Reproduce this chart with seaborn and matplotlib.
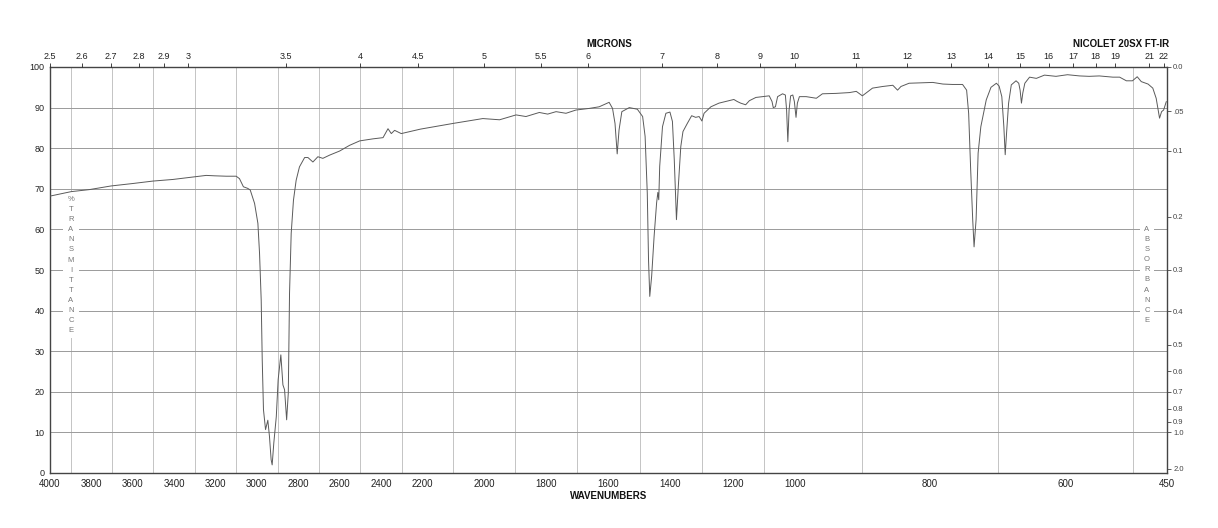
import numpy as np
import matplotlib
matplotlib.use("Agg")
import matplotlib.pyplot as plt
import seaborn as sns

# traced spectrum (wavenumber in cm-1, % transmittance)
wavenumbers = [4000, 3898, 3810, 3705, 3600, 3503, 3406, 3310, 3245, 3205,
               3148, 3100, 3084, 3065, 3044, 3032, 3011, 2995, 2987, 2979,
               2974, 2968, 2958, 2947, 2939, 2931, 2926, 2918, 2906, 2897,
               2884, 2874, 2866, 2856, 2848, 2842, 2834, 2823, 2810, 2794,
               2769, 2753, 2729, 2705, 2681, 2648, 2600, 2552, 2503, 2439,
               2390, 2366, 2350, 2334, 2302, 2209, 2101, 2005, 1951, 1898,
               1866, 1823, 1796, 1769, 1737, 1705, 1662, 1630, 1598, 1587,
               1579, 1572, 1566, 1557, 1533, 1507, 1490, 1482, 1475, 1471,
               1467, 1461, 1453, 1445, 1441, 1438, 1435, 1426, 1415, 1402,
               1394, 1388, 1381, 1375, 1367, 1360, 1346, 1332, 1319, 1308,
               1299, 1292, 1270, 1244, 1196, 1185, 1174, 1158, 1146, 1125,
               1103, 1082, 1073, 1069, 1062, 1055, 1039, 1030, 1026, 1022,
               1018, 1013, 1006, 1001, 998, 996, 993, 983, 968, 959,
               939, 919, 909, 900, 885, 870, 855, 848, 843, 831,
               811, 796, 781, 767, 752, 746, 743, 740, 737, 735,
               732, 729, 725, 717, 710, 702, 698, 694, 691, 689,
               687, 684, 680, 673, 669, 667, 665, 663, 660, 653,
               643, 631, 614, 597, 579, 565, 550, 530, 520, 510,
               501, 494, 488, 478, 471, 466, 461, 458, 455, 451]
transmittance = [68.2, 69.3, 69.8, 70.7, 71.3, 71.9, 72.3, 72.9, 73.3, 73.2,
                 73.1, 73.1, 72.5, 70.5, 70.1, 69.7, 66.4, 61.5, 54.1, 42.6,
                 27.9, 15.6, 10.7, 13.0, 9.0, 3.3, 2.0, 7.4, 13.9, 23.0,
                 29.1, 21.7, 20.5, 13.1, 19.7, 44.3, 59.0, 67.2, 72.1, 75.4,
                 77.7, 77.7, 76.6, 77.9, 77.5, 78.3, 79.3, 80.7, 81.8, 82.3,
                 82.6, 84.8, 83.6, 84.4, 83.6, 84.7, 86.1, 87.3, 87.0, 88.2,
                 87.8, 88.8, 88.4, 89.0, 88.6, 89.4, 89.8, 90.2, 91.3, 89.8,
                 86.1, 78.6, 84.5, 89.0, 90.0, 89.6, 87.8, 82.9, 68.9, 52.5,
                 43.5, 48.4, 58.3, 66.5, 69.1, 67.3, 75.5, 85.3, 88.6, 88.9,
                 86.6, 77.1, 62.4, 70.6, 80.4, 84.1, 86.1, 88.0, 87.6, 87.8,
                 86.7, 88.6, 90.2, 91.1, 92.0, 91.5, 91.1, 90.7, 91.7, 92.5,
                 92.7, 92.9, 91.5, 90.0, 90.2, 92.7, 93.4, 93.1, 89.4, 81.6,
                 89.4, 92.9, 93.1, 91.5, 87.6, 91.1, 92.7, 92.7, 92.3, 93.4,
                 93.5, 93.7, 94.0, 92.9, 94.8, 95.2, 95.5, 94.3, 95.2, 96.0,
                 96.1, 96.2, 95.8, 95.7, 95.7, 94.3, 88.6, 74.7, 62.4, 55.7,
                 62.4, 78.8, 85.3, 91.9, 95.0, 96.0, 95.3, 92.7, 85.3, 78.4,
                 83.7, 91.1, 95.6, 96.6, 96.0, 94.3, 91.1, 93.6, 96.0, 97.5,
                 97.2, 98.0, 97.7, 98.1, 97.8, 97.7, 97.8, 97.5, 97.5, 96.6,
                 96.6, 97.6, 96.4, 95.8, 94.8, 92.3, 87.4, 89.0, 89.4, 91.5]

wn_ticks = [4000, 3800, 3600, 3400, 3200, 3000, 2800, 2600, 2400, 2200,
            2000, 1800, 1600, 1400, 1200, 1000, 800, 600, 450]
micron_ticks = [2.5, 2.6, 2.7, 2.8, 2.9, 3, 3.5, 4, 4.5, 5, 5.5, 6, 7, 8, 9,
                10, 11, 12, 13, 14, 15, 16, 17, 18, 19, 21, 22]
absorb_ticks = [0.0, 0.05, 0.1, 0.2, 0.3, 0.4, 0.5, 0.6, 0.7, 0.8, 0.9, 1.0, 2.0]
absorb_labels = ["0.0", ".05", "0.1", "0.2", "0.3", "0.4", "0.5", "0.6",
                 "0.7", "0.8", "0.9", "1.0", "2.0"]

# chart paper: three equal-width panels 4000-2200, 2200-1000, 1000-450
breaks = [450, 1000, 2200, 4000]
def fwd(w):
    return np.interp(w, breaks, [0, 1, 2, 3])
def inv(p):
    return np.interp(p, [0, 1, 2, 3], breaks)

sns.set_theme(style="white")
plt.rcParams['font.family'] = ['Liberation Sans', 'DejaVu Sans']

fig = plt.figure(figsize=(12.18, 5.28), dpi=100)
ax = fig.add_axes([50 / 1218, 1 - 473 / 528, 1117 / 1218, 406 / 528])

sns.lineplot(x=wavenumbers, y=transmittance, ax=ax, sort=False,
             estimator=None, color="#5a5a5a", lw=0.7, zorder=3)

ax.set_xscale('function', functions=(fwd, inv))
ax.set_xlim(4000, 450)
ax.set_ylim(0, 100)
ax.set_xticks(wn_ticks)
ax.set_xticklabels([str(t) for t in wn_ticks])
ax.set_xticks(list(range(3900, 450, -100)), minor=True)
ax.set_yticks(range(0, 101, 10))
ax.tick_params(axis='x', which='both', length=0, pad=4, labelsize=7, colors="#222222")
ax.tick_params(axis='y', length=0, pad=4, labelsize=6.5, colors="#222222")
ax.grid(False)
ax.grid(which='minor', axis='x', color="#c4c4c4", lw=0.7)
ax.grid(which='major', axis='y', color="#9a9a9a", lw=0.7)
ax.set_xlabel("")
ax.set_ylabel("")
for s in ax.spines.values():
    s.set_color("#444444")
    s.set_linewidth(1.0)

# top micron axis
ax_t = ax.twiny()
ax_t.set_xscale('function', functions=(fwd, inv))
ax_t.set_xlim(4000, 450)
ax_t.set_xticks([1e4 / m for m in micron_ticks])
ax_t.set_xticklabels([f"{m:g}" for m in micron_ticks])
ax_t.set_xticks([], minor=True)
ax_t.tick_params(axis='x', length=3, width=0.6, pad=1.5, labelsize=6.5,
                 colors="#222222")
ax_t.grid(False)

# right absorbance axis
ax_r = ax.twinx()
ax_r.set_ylim(0, 100)
ax_r.set_yticks([100 * 10 ** (-a) for a in absorb_ticks])
ax_r.set_yticklabels(absorb_labels)
ax_r.tick_params(axis='y', length=3, width=0.6, pad=1.5, labelsize=5.5,
                 colors="#444444")
ax_r.grid(False)
for a in (ax_t, ax_r):
    for s in a.spines.values():
        s.set_visible(False)

# stacked side captions, white box breaks the grid but stays under the trace
ax.text(0.0188, 51.2, "\n".join("%TRANSMITTANCE"), transform=ax.get_yaxis_transform(),
        ha='center', va='center', fontsize=5.5, color="#777777", linespacing=1.62,
        zorder=2, bbox=dict(facecolor='white', edgecolor='none', pad=3))
ax.text(0.982, 48.8, "\n".join("ABSORBANCE"), transform=ax.get_yaxis_transform(),
        ha='center', va='center', fontsize=5.5, color="#777777", linespacing=1.62,
        zorder=2, bbox=dict(facecolor='white', edgecolor='none', pad=3))

fig.text(609 / 1218, 1 - 44 / 528, "MICRONS", ha='center', va='center',
         fontsize=7, fontweight='bold', color="#111111")
fig.text(1121 / 1218, 1 - 44 / 528, "NICOLET 20SX FT-IR", ha='center', va='center',
         fontsize=7, fontweight='bold', color="#111111")
fig.text(609 / 1218, 1 - 496 / 528, "WAVENUMBERS", ha='center', va='center',
         fontsize=7, fontweight='bold', color="#111111")

fig.savefig("out.png", dpi=100, facecolor="white")
